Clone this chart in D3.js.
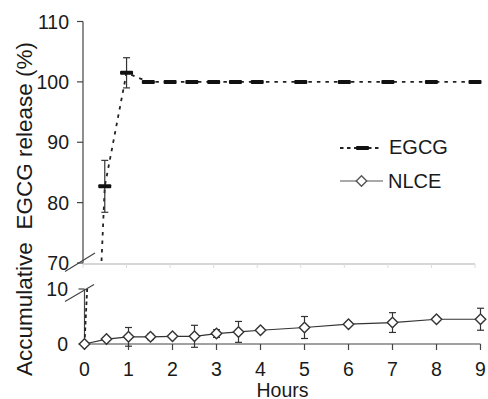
<!DOCTYPE html>
<html><head><meta charset="utf-8">
<script src="https://cdn.jsdelivr.net/npm/d3@7"></script>
<style>body{margin:0;background:#fff}svg{display:block}text{font-family:"Liberation Sans",Arial,sans-serif;fill:#1a1a1a}</style>
</head><body><div id="chart"></div>
<script>
const hours = [0,0.5,1,1.5,2,2.5,3,3.5,4,5,6,7,8,9];
const egcgValues = [0,82.7,101.5,100,100,100,100,100,100,100,100,100,100,100];
const egcgErrors = [0,4.3,2.5,0.3,0.3,0.2,0.2,0.2,0.2,0.2,0.2,0.2,0.2,0.2];
const nlceValues = [0,0.9,1.3,1.3,1.4,1.4,1.9,2.2,2.5,3.0,3.6,3.9,4.5,4.5];
const nlceErrors = [0,0.4,1.7,0.5,0.4,2.0,0.7,1.9,0.4,2.0,0.4,1.8,0.4,2.0];
const xTicks = [0,1,2,3,4,5,6,7,8,9];
const yTopTicks = [70,80,90,100,110];
const yBotTicks = [0,10];
const seriesNames = ["EGCG","NLCE"];

const W=488,H=399;
const FS=19.5;
const svg=d3.select("#chart").append("svg").attr("width",W).attr("height",H);
const xTop=d3.scaleLinear().domain([0,9]).range([83,475]);
const yTop=d3.scaleLinear().domain([70,110]).range([263,21.5]);
const xBot=d3.scaleLinear().domain([0,9]).range([84.5,480.5]);
const yBot=d3.scaleLinear().domain([0,10]).range([344,289]);

const defs=svg.append("defs");
defs.append("clipPath").attr("id","cTop").append("rect").attr("x",80).attr("y",0).attr("width",420).attr("height",263);
defs.append("clipPath").attr("id","cBot").append("rect").attr("x",80).attr("y",289).attr("width",420).attr("height",70);

const egcg=hours.map((h,i)=>({h,v:egcgValues[i],e:egcgErrors[i]}));
const nlce=hours.map((h,i)=>({h,v:nlceValues[i],e:nlceErrors[i]}));

// top panel gray baseline
svg.append("line").attr("x1",xTop(0)).attr("x2",xTop(9)).attr("y1",264).attr("y2",264).attr("stroke","#c8c8c8").attr("stroke-width",1.5);
svg.append("g").selectAll("line").data(xTicks).join("line")
  .attr("x1",d=>xTop(d)).attr("x2",d=>xTop(d)).attr("y1",264).attr("y2",268).attr("stroke","#dcdcdc");

// axes
const axCol="#444";
svg.append("line").attr("x1",83).attr("x2",83).attr("y1",yTop(110)).attr("y2",yTop(70)).attr("stroke",axCol).attr("stroke-width",1.2);
svg.append("g").selectAll("line").data(yTopTicks).join("line")
  .attr("x1",77).attr("x2",83).attr("y1",d=>yTop(d)).attr("y2",d=>yTop(d)).attr("stroke",axCol).attr("stroke-width",1.2);
svg.append("g").selectAll("text").data(yTopTicks).join("text")
  .attr("x",69).attr("y",d=>yTop(d)).attr("dy","0.36em").attr("text-anchor","end").attr("font-size",FS).text(d=>d);

svg.append("line").attr("x1",xBot(0)).attr("x2",xBot(0)).attr("y1",yBot(0)).attr("y2",yBot(10)).attr("stroke",axCol).attr("stroke-width",1.2);
svg.append("g").selectAll("line").data(yBotTicks).join("line")
  .attr("x1",xBot(0)-6).attr("x2",xBot(0)).attr("y1",d=>yBot(d)).attr("y2",d=>yBot(d)).attr("stroke",axCol).attr("stroke-width",1.2);
svg.append("g").selectAll("text").data(yBotTicks).join("text")
  .attr("x",68).attr("y",d=>yBot(d)).attr("dy","0.36em").attr("text-anchor","end").attr("font-size",FS).text(d=>d);

svg.append("line").attr("x1",xBot(0)).attr("x2",xBot(9)).attr("y1",yBot(0)).attr("y2",yBot(0)).attr("stroke",axCol).attr("stroke-width",1.2);
svg.append("g").selectAll("line").data(xTicks).join("line")
  .attr("x1",d=>xBot(d)).attr("x2",d=>xBot(d)).attr("y1",yBot(0)).attr("y2",yBot(0)+6).attr("stroke",axCol).attr("stroke-width",1.2);
svg.append("g").selectAll("text").data(xTicks).join("text")
  .attr("x",d=>xBot(d)).attr("y",375.5).attr("text-anchor","middle").attr("font-size",FS).text(d=>d);

// break marks
svg.append("line").attr("x1",65).attr("y1",271.5).attr("x2",95).attr("y2",253).attr("stroke",axCol).attr("stroke-width",1.2);
svg.append("line").attr("x1",65).attr("y1",301.5).attr("x2",94).attr("y2",284.5).attr("stroke",axCol).attr("stroke-width",1.2);

// titles
svg.append("text").attr("x",282.5).attr("y",396.5).attr("text-anchor","middle").attr("font-size",FS).text("Hours");
svg.append("text").attr("transform","translate(32,209) rotate(-90)").attr("text-anchor","middle").attr("font-size",22.5)
  .attr("xml:space","preserve").style("white-space","pre").text("Accumulative  EGCG release (%)");

// EGCG lines
const lineTop=d3.line().x(d=>xTop(d.h)).y(d=>yTop(d.v));
const lineBot=d3.line().x(d=>xBot(d.h)).y(d=>yBot(d.v));
svg.append("path").attr("clip-path","url(#cTop)").attr("d",lineTop(egcg)).attr("fill","none").attr("stroke","#222").attr("stroke-width",1.8).attr("stroke-dasharray","3.5,5");
svg.append("path").attr("clip-path","url(#cBot)").attr("d",lineBot(egcg.slice(0,2))).attr("fill","none").attr("stroke","#222").attr("stroke-width",1.8).attr("stroke-dasharray","3.5,3");

// EGCG error bars and markers
const eg=egcg.filter(d=>d.v>=70);
const gE=svg.append("g");
gE.selectAll("line.v").data(eg).join("line").attr("class","v")
  .attr("x1",d=>xTop(d.h)).attr("x2",d=>xTop(d.h)).attr("y1",d=>yTop(d.v-d.e)).attr("y2",d=>yTop(d.v+d.e)).attr("stroke","#333").attr("stroke-width",1.2);
gE.selectAll("line.t").data(eg.filter(d=>d.e>1)).join("line").attr("class","t")
  .attr("x1",d=>xTop(d.h)-3.5).attr("x2",d=>xTop(d.h)+3.5).attr("y1",d=>yTop(d.v+d.e)).attr("y2",d=>yTop(d.v+d.e)).attr("stroke","#333").attr("stroke-width",1.2);
gE.selectAll("line.b").data(eg.filter(d=>d.e>1)).join("line").attr("class","b")
  .attr("x1",d=>xTop(d.h)-3.5).attr("x2",d=>xTop(d.h)+3.5).attr("y1",d=>yTop(d.v-d.e)).attr("y2",d=>yTop(d.v-d.e)).attr("stroke","#333").attr("stroke-width",1.2);
gE.selectAll("rect").data(eg).join("rect")
  .attr("x",d=>xTop(d.h)-6.5).attr("y",d=>yTop(d.v)-2).attr("width",13).attr("height",4).attr("rx",1).attr("fill","#111");

// NLCE
svg.append("path").attr("d",lineBot(nlce)).attr("fill","none").attr("stroke","#333").attr("stroke-width",1.2);
const gN=svg.append("g");
const nE=nlce.filter(d=>d.e>0);
gN.selectAll("line.v").data(nE).join("line").attr("class","v")
  .attr("x1",d=>xBot(d.h)).attr("x2",d=>xBot(d.h)).attr("y1",d=>yBot(d.v-d.e)).attr("y2",d=>yBot(d.v+d.e)).attr("stroke","#333").attr("stroke-width",1.2);
gN.selectAll("line.t").data(nE).join("line").attr("class","t")
  .attr("x1",d=>xBot(d.h)-3.5).attr("x2",d=>xBot(d.h)+3.5).attr("y1",d=>yBot(d.v+d.e)).attr("y2",d=>yBot(d.v+d.e)).attr("stroke","#333").attr("stroke-width",1.2);
gN.selectAll("line.b").data(nE).join("line").attr("class","b")
  .attr("x1",d=>xBot(d.h)-3.5).attr("x2",d=>xBot(d.h)+3.5).attr("y1",d=>yBot(d.v-d.e)).attr("y2",d=>yBot(d.v-d.e)).attr("stroke","#333").attr("stroke-width",1.2);
const diamond=d3.symbol().type(d3.symbolDiamond2).size(70);
gN.selectAll("path").data(nlce).join("path")
  .attr("transform",d=>`translate(${xBot(d.h)},${yBot(d.v)})`).attr("d",diamond).attr("fill","#fff").attr("stroke","#333").attr("stroke-width",1.4);

// legend
const lg=svg.append("g");
lg.append("line").attr("x1",340).attr("x2",381).attr("y1",148).attr("y2",148).attr("stroke","#222").attr("stroke-width",1.8).attr("stroke-dasharray","3.5,3.5");
lg.append("rect").attr("x",356).attr("y",146).attr("width",13).attr("height",4).attr("rx",1).attr("fill","#111");
lg.append("text").attr("x",389).attr("y",154).attr("font-size",20).text(seriesNames[0]);
lg.append("line").attr("x1",340).attr("x2",383).attr("y1",181).attr("y2",181).attr("stroke","#555").attr("stroke-width",1.2);
lg.append("path").attr("transform","translate(361.5,181)").attr("d",diamond).attr("fill","#fff").attr("stroke","#555").attr("stroke-width",1.4);
lg.append("text").attr("x",388).attr("y",187.5).attr("font-size",20).text(seriesNames[1]);
</script></body></html>
